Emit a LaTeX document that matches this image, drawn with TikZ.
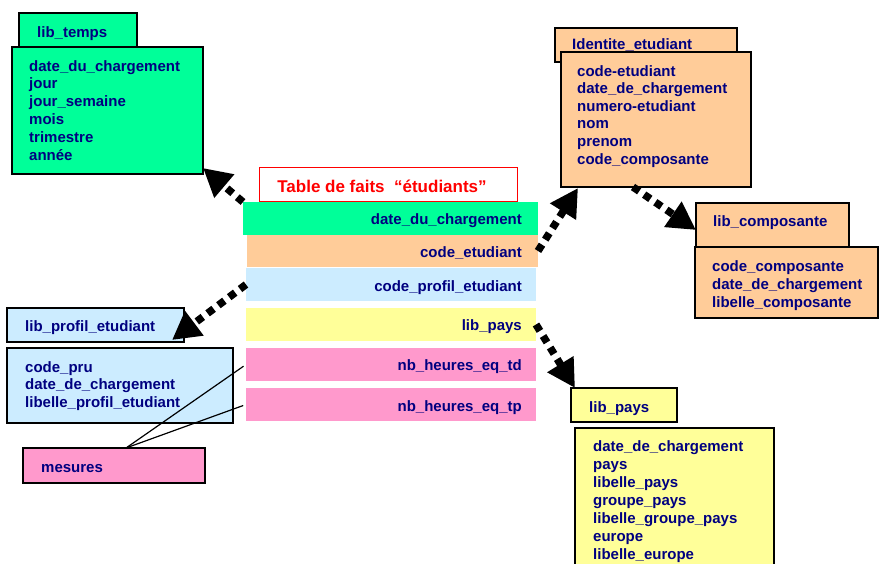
\documentclass[tikz,border=0pt]{standalone}
\usepackage{fontspec}
\setmainfont{Liberation Sans}
\usetikzlibrary{arrows.meta,calc}

\definecolor{tempsvert}{RGB}{0,255,153}
\definecolor{identorange}{RGB}{255,204,153}
\definecolor{profilbleu}{RGB}{204,236,255}
\definecolor{paysjaune}{RGB}{255,255,153}
\definecolor{mesurerose}{RGB}{255,153,204}
\definecolor{champbleu}{RGB}{0,0,128}

\begin{document}
\begin{tikzpicture}[
  x=1pt, y=-1pt,
  line join=miter,
  box/.style={draw=black, line width=1.3pt, inner sep=0pt, outer sep=0pt, anchor=north west},
  row/.style={inner sep=0pt, outer sep=0pt, anchor=north west},
  field/.style={font=\fontsize{15}{18}\selectfont\bfseries, text=champbleu, inner sep=0pt, anchor=base west},
  rowtext/.style={field, anchor=base east},
  titlebox/.style={draw=red, line width=1.1pt, fill=white, inner sep=0pt, anchor=north west},
  titletext/.style={font=\fontsize{17}{20}\selectfont\bfseries, text=red, inner sep=0pt, anchor=base},
  fkarrow/.style={line width=7.5pt, dash pattern=on 7.5pt off 6pt,
    -{Triangle[length=28pt,width=29pt]}},
  link/.style={line width=1.2pt, shorten >=3pt},
]
\useasboundingbox (0,0) rectangle (879,563);
\clip (0,0) rectangle (879,563);

% ── lib_temps ─────────────────────────────────────────────────────────────
\node[box, fill=tempsvert, minimum width=118pt, minimum height=34pt] (tempshead) at (19,13) {};
\node[field] (tempstitle) at (37,37) {lib\_temps};
\node[box, fill=tempsvert, minimum width=191pt, minimum height=127pt] (tempsbody) at (12,47) {};
\foreach \t [count=\i] in {date\_du\_chargement, jour, jour\_semaine, mois, trimestre, année}
  { \node[field] (temps-\i) at (29,71+17.8*\i-17.8) {\t}; }

% ── Identite_etudiant ─────────────────────────────────────────────────────
\node[box, fill=identorange, minimum width=182pt, minimum height=34pt] (idhead) at (555,28) {};
\node[field] (idtitle) at (572,49) {Identite\_etudiant};
\node[box, fill=identorange, minimum width=190pt, minimum height=135pt] (idbody) at (561,52) {};
\foreach \t [count=\i] in {code-etudiant, date\_de\_chargement, numero-etudiant, nom, prenom, code\_composante}
  { \node[field] (id-\i) at (577,76+17.6*\i-17.6) {\t}; }

% ── lib_composante ────────────────────────────────────────────────────────
\node[box, fill=identorange, minimum width=153pt, minimum height=44pt] (comphead) at (696,203) {};
\node[field] (comptitle) at (713,226) {lib\_composante};
\node[box, fill=identorange, minimum width=183pt, minimum height=71pt] (compbody) at (695,247) {};
\foreach \t [count=\i] in {code\_composante, date\_de\_chargement, libelle\_composante}
  { \node[field] (comp-\i) at (712,271+18*\i-18) {\t}; }

% ── lib_profil_etudiant ───────────────────────────────────────────────────
\node[box, fill=profilbleu, minimum width=177pt, minimum height=34pt] (profhead) at (7,308) {};
\node[field] (proftitle) at (25,331) {lib\_profil\_etudiant};
\node[box, fill=profilbleu, minimum width=226pt, minimum height=75pt] (profbody) at (7,348) {};
\foreach \t [count=\i] in {code\_pru, date\_de\_chargement, libelle\_profil\_etudiant}
  { \node[field] (prof-\i) at (25,372+17.5*\i-17.5) {\t}; }

% ── mesures ───────────────────────────────────────────────────────────────
\node[box, fill=mesurerose, minimum width=182pt, minimum height=35pt] (mesures) at (23,448) {};
\node[field] (mestitle) at (41,472) {mesures};

% ── lib_pays ──────────────────────────────────────────────────────────────
\node[box, fill=paysjaune, minimum width=106pt, minimum height=34pt] (payshead) at (571,388) {};
\node[field] (paystitle) at (589,412) {lib\_pays};
\node[box, fill=paysjaune, minimum width=199pt, minimum height=160pt] (paysbody) at (575,428) {};
\foreach \t [count=\i] in {date\_de\_chargement, pays, libelle\_pays, groupe\_pays,
  libelle\_groupe\_pays, europe, libelle\_europe}
  { \node[field] (pays-\i) at (593,451+18*\i-18) {\t}; }

% ── the fact table ────────────────────────────────────────────────────────
\node[titlebox, minimum width=258pt, minimum height=34pt] (titre) at (259,167) {};
\node[titletext] (titretxt) at (382,192) {Table de faits~ “étudiants”};
\node[row, fill=tempsvert,   minimum width=295pt, minimum height=33pt] (datech)   at (243,202) {};
\node[row, fill=identorange, minimum width=291pt, minimum height=32pt] (codeet)   at (247,235) {};
\node[row, fill=profilbleu,  minimum width=290pt, minimum height=33pt] (codeprof) at (246,268) {};
\node[row, fill=paysjaune,   minimum width=290pt, minimum height=33pt] (libpays)  at (246,308) {};
\node[row, fill=mesurerose,  minimum width=290pt, minimum height=33pt] (td)       at (246,348) {};
\node[row, fill=mesurerose,  minimum width=290pt, minimum height=33pt] (tp)       at (246,388) {};
\foreach \n/\y/\t in {datech/224/date\_du\_chargement, codeet/257/code\_etudiant,
  codeprof/291/code\_profil\_etudiant, libpays/330/lib\_pays,
  td/370/nb\_heures\_eq\_td, tp/411/nb\_heures\_eq\_tp}
  { \node[rowtext] (\n-txt) at (522,\y) {\t}; }

% ── the links ─────────────────────────────────────────────────────────────
\draw[fkarrow] (datech.north west) -- ($(tempsbody.south east)+(0,-6)$);
\draw[fkarrow] (codeet.east) -- ($(idbody.south west)+(17,1)$);
\draw[fkarrow] ($(idbody.south)+(-23,0)$) -- ($(comphead.west)+(0,5)$);
\draw[fkarrow] (codeprof.west) -- ($(profhead.south east)+(-12,-2)$);
\draw[fkarrow] (libpays.east) -- ($(payshead.north west)+(4,0)$);

\coordinate (mesapex) at ($(mesures.north)+(12,0)$);
\draw[link] (mesapex) -- (td.west);
\draw[link] (mesapex) -- (tp.west);

\end{tikzpicture}
\end{document}
